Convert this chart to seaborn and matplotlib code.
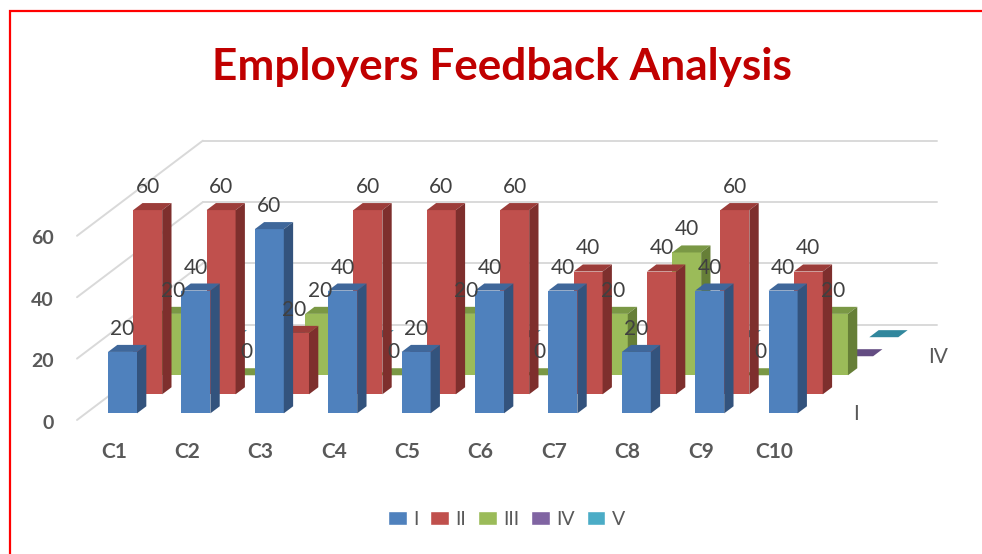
import numpy as np
import pandas as pd
import matplotlib
matplotlib.use("Agg")
import matplotlib.pyplot as plt
from matplotlib.patches import Polygon, Patch, Rectangle
import seaborn as sns

# --------------------------- data ---------------------------
categories = ["C1", "C2", "C3", "C4", "C5", "C6", "C7", "C8", "C9", "C10"]
series_names = ["I", "II", "III", "IV", "V"]
vals_I = [20, 40, 60, 40, 20, 40, 40, 20, 40, 40]
vals_II = [60, 60, 20, 60, 60, 60, 40, 40, 60, 40]
vals_III = [20, 0, 20, 0, 20, 0, 20, 40, 0, 20]
vals_IV = [0, 0, 0, 0, 0, 0, 0, 0, 0, 0]
vals_V = [0, 0, 0, 0, 0, 0, 0, 0, 0, 0]
y_ticks = [0, 20, 40, 60]
labelled = ["I", "II", "III"]      # series that carry data labels
depth_labels = ["I", "IV"]         # the depth axis only shows these

values = {"I": vals_I, "II": vals_II, "III": vals_III, "IV": vals_IV, "V": vals_V}
# front face, top face, side face
colors = {
    "I": ("#4F81BD", "#3F679A", "#33537D"),
    "II": ("#C0504D", "#9C3D3A", "#7E2F2D"),
    "III": ("#9BBB59", "#7A9845", "#667F37"),
    "IV": ("#8064A2", "#634C82", "#4F3D68"),
    "V": ("#4BACC6", "#31879D", "#287083"),
}

# --------------------------- fake 3D (oblique) projection ---------------------------
DX, DY = 0.343, 6.2    # shift of one depth row (category units, value units)
FRONT = 0.35           # where the bar starts inside its row
DEPTH = 0.37           # bar depth, in rows
WIDTH = 0.395          # bar width, in categories
PX_X, PX_Y = 73.4, 3.07  # pixels per category / per value unit
ORIG_X, ORIG_Y = 77, 420  # pixel of the front-left floor corner

sns.set_style("white")
plt.rcParams["font.family"] = ["Lato", "DejaVu Sans"]

fig = plt.figure(figsize=(9.82, 5.54), dpi=100)
ax = fig.add_axes([0, 0, 1, 1])
n_cat = len(categories)
n_ser = len(series_names)

# grid on the left wall and the back wall
for v in y_ticks:
    ax.plot([0, n_ser * DX], [v, v + n_ser * DY], color="#D9D9D9", lw=1.4, zorder=1)
    ax.plot([n_ser * DX, n_cat + n_ser * DX], [v + n_ser * DY] * 2,
            color="#D9D9D9", lw=1.4, zorder=1)

# bars, back row first
for s in reversed(range(n_ser)):
    name = series_names[s]
    front, top, side = colors[name]
    d = s + FRONT
    z = 10 + (n_ser - s) * 2
    df = pd.DataFrame({"pos": np.arange(n_cat) + 0.5 + d * DX, "value": values[name]})
    sns.barplot(data=df, x="pos", y="value", native_scale=True, width=WIDTH,
                color=front, saturation=1, errorbar=None, bottom=d * DY,
                linewidth=0, zorder=z, ax=ax)
    bars = ax.containers[-1]
    bdx, bdy = DEPTH * DX, DEPTH * DY
    for bar, v in zip(bars, values[name]):
        x0, y0 = bar.get_x(), bar.get_y()
        x1, y1 = x0 + bar.get_width(), y0 + bar.get_height()
        ax.add_patch(Polygon([(x0, y1), (x1, y1), (x1 + bdx, y1 + bdy), (x0 + bdx, y1 + bdy)],
                             closed=True, facecolor=top, edgecolor="none", zorder=z))
        ax.add_patch(Polygon([(x1, y0), (x1 + bdx, y0 + bdy), (x1 + bdx, y1 + bdy), (x1, y1)],
                             closed=True, facecolor=side, edgecolor="none", zorder=z))
        if name in labelled:
            ax.text(x0 + bar.get_width() / 2, y1 + 7.5, str(v), ha="center", va="center",
                    fontsize=15, color="#404040", zorder=100)

# axis texts
for v in y_ticks:
    ax.text(-0.313, v - 1, str(v), ha="right", va="center", fontsize=14,
            fontweight="bold", color="#595959")
for i, c in enumerate(categories):
    ax.text(i + 0.5, -10.4, c, ha="center", va="center", fontsize=15,
            fontweight="bold", color="#595959")
for name in depth_labels:
    s = series_names.index(name)
    ax.text(n_cat + (s + 0.5) * DX + 0.40, (s + 0.5) * DY - 1.1, name, ha="left",
            va="center", fontsize=15, color="#595959")

ax.set_xlim(-ORIG_X / PX_X, (982 - ORIG_X) / PX_X)
ax.set_ylim(-(554 - ORIG_Y) / PX_Y, ORIG_Y / PX_Y)
ax.axis("off")

fig.text(0.5107, 1 - 80 / 554, "Employers Feedback Analysis", ha="center", va="baseline",
         fontsize=31.8, fontweight="bold", color="#C00000")

handles = [Patch(facecolor=colors[n][0]) for n in series_names]
fig.legend(handles, series_names, loc="center", bbox_to_anchor=(0.516, 0.063), ncol=5,
           frameon=False, fontsize=14, handlelength=0.95, handleheight=0.7,
           handletextpad=0.35, columnspacing=0.6, labelcolor="#595959")

fig.patches.append(Rectangle((9.5 / 982, -0.1), 2, 1.1 - 10.5 / 554, transform=fig.transFigure,
                             fill=False, edgecolor="#FF0000", lw=1.6))

fig.savefig("out.png", dpi=100)
